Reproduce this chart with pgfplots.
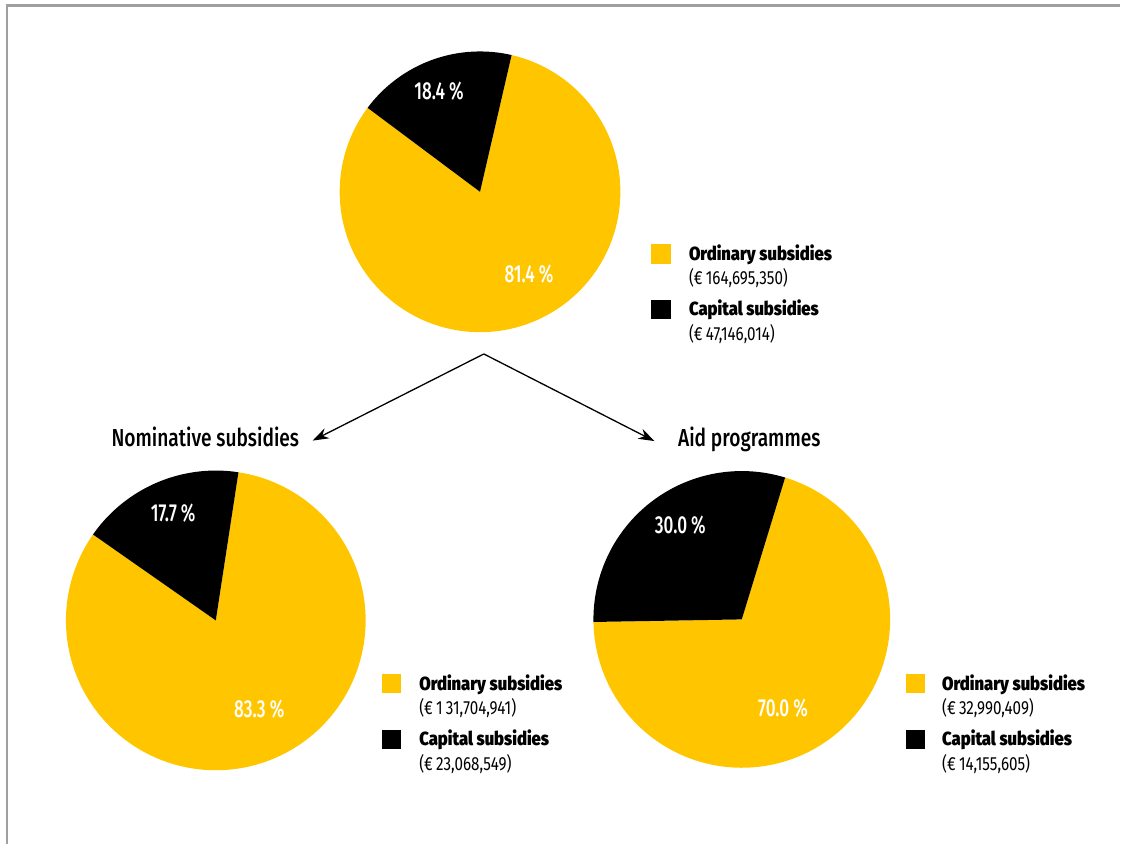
\documentclass[border=0pt]{standalone}
\usepackage{fontspec}
\setmainfont{Fira Sans}[FakeStretch=0.8]
\newfontfamily\heavyfont{Fira Sans}[UprightFont=* Black, FakeStretch=0.875]
\newfontfamily\mediumfont{Fira Sans}[UprightFont=* Medium, FakeStretch=0.7]
\newfontfamily\titlefont{Fira Sans}[UprightFont=* Medium, FakeStretch=0.78]
\usepackage{pgfplots}
\pgfplotsset{compat=1.18}
\usetikzlibrary{arrows.meta}

\definecolor{pieyellow}{RGB}{255,198,0}
\definecolor{framegray}{RGB}{160,160,160}

% Shares (in percent) and geometry of the three pies (pixel units, y downwards)
% #1 cx, #2 cy, #3 radius, #4 start angle of capital slice, #5 capital share
\newcommand{\pie}[5]{%
  \pgfmathsetmacro{\pA}{#4}%
  \pgfmathsetmacro{\pB}{#4+3.6*#5}%
  \pgfmathsetmacro{\pC}{#4+360}%
  \addplot[fill=pieyellow, draw=none, domain=\pB:\pC, samples=180]
    ({#1+#3*cos(x)}, {#2-#3*sin(x)}) -- (axis cs:#1,#2) -- cycle;
  \addplot[fill=black, draw=none, domain=\pA:\pB, samples=60]
    ({#1+#3*cos(x)}, {#2-#3*sin(x)}) -- (axis cs:#1,#2) -- cycle;
}

\newcommand{\legendblock}[5]{%
  % #1 x of square centre, #2 y of first square, #3 x of text, #4 ordinary amount, #5 capital amount
  \addplot[only marks, mark=square*, mark size=4.6pt, color=pieyellow] coordinates {(#1,#2)};
  \addplot[only marks, mark=square*, mark size=4.6pt, color=black] coordinates {(#1,#2+56)};
  \node[anchor=base west, inner sep=0pt, font=\fontsize{9.5}{11}\heavyfont] at (axis cs:#3,#2+7) {Ordinary subsidies};
  \node[anchor=base west, inner sep=0pt, font=\fontsize{9.5}{11}\selectfont] at (axis cs:#3,#2+31) {(€\,#4)};
  \node[anchor=base west, inner sep=0pt, font=\fontsize{9.5}{11}\heavyfont] at (axis cs:#3,#2+62) {Capital subsidies};
  \node[anchor=base west, inner sep=0pt, font=\fontsize{9.5}{11}\selectfont] at (axis cs:#3,#2+87) {(€\,#5)};
}

\begin{document}
\begin{tikzpicture}
\begin{axis}[
  width=560.5pt, height=422.5pt, scale only axis,
  xmin=0, xmax=1121, ymin=0, ymax=845, y dir=reverse,
  hide axis, clip=false,
]
% frame
\draw[framegray, line width=1.1pt] (axis cs:7,845) -- (axis cs:7,5.5) -- (axis cs:1121,5.5);

% total
\pie{480.5}{192}{140.5}{77}{18.4}
% nominative subsidies
\pie{216}{621}{150}{81.3}{17.7}
% aid programmes
\pie{742.5}{620}{148.5}{73}{30.0}

% percentage labels
\begin{scope}[every node/.style={anchor=base, text=white, font=\fontsize{12.3}{14}\mediumfont}]
\node at (axis cs:439.5,100) {18.4\,\%};
\node at (axis cs:529.5,282.5) {81.4\,\%};
\node at (axis cs:173.3,522) {17.7\,\%};
\node at (axis cs:259.5,718) {83.3\,\%};
\node at (axis cs:681,534.3) {30.0\,\%};
\node at (axis cs:783.7,716.7) {70.0\,\%};
\end{scope}

% legends
\legendblock{661.7}{254}{689.3}{164,695,350}{47,146,014}
\legendblock{391.7}{684}{419.3}{1\,31,704,941}{23,068,549}
\legendblock{916.3}{684}{942.7}{32,990,409}{14,155,605}

% titles
\node[anchor=base, font=\fontsize{12.3}{14}\titlefont] at (axis cs:205.5,447.3) {Nominative subsidies};
\node[anchor=base, font=\fontsize{12.3}{14}\titlefont] at (axis cs:750,447.3) {Aid programmes};

% arrows
\draw[line width=0.65pt, -{Stealth[length=8pt, width=5.5pt]}] (axis cs:484.3,354.3) -- (axis cs:313,441);
\draw[line width=0.65pt, -{Stealth[length=8pt, width=5.5pt]}] (axis cs:484.3,354.3) -- (axis cs:655,441.5);

% keep the full canvas
\path (axis cs:0,0) rectangle (axis cs:1121,845);
\end{axis}
\end{tikzpicture}
\end{document}
